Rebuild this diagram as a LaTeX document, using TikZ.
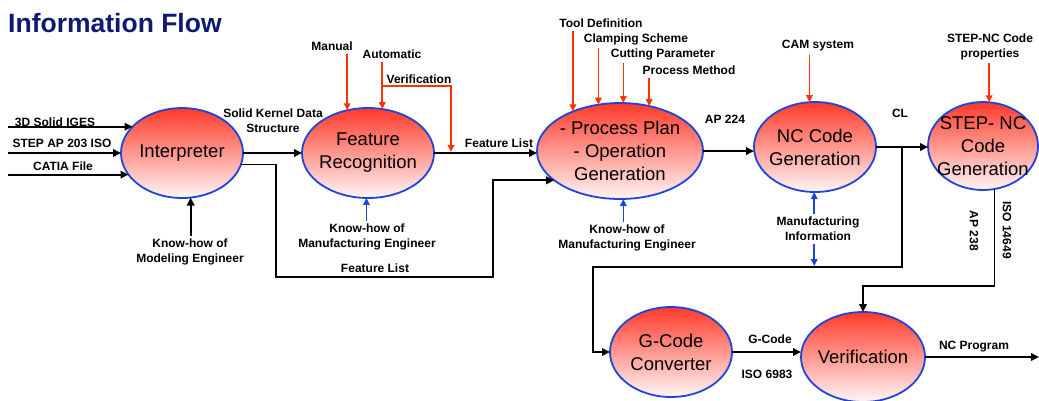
\documentclass[tikz,border=0pt]{standalone}
\usepackage{fontspec}
\setmainfont{Liberation Sans}
\usetikzlibrary{shapes.geometric,arrows.meta}
\definecolor{ttl}{HTML}{0D1A73}
\definecolor{redl}{HTML}{FF3300}
\definecolor{bluel}{HTML}{1F45D8}
\definecolor{ellt}{HTML}{FF3A2A}
\definecolor{ellb}{HTML}{FFF6F6}
\tikzset{
  proc/.style={ellipse, draw=bluel, line width=1.8pt, top color=ellt, bottom color=ellb, inner sep=0pt, outer sep=0pt},
  ptext/.style={font=\fontsize{18.5}{23}\selectfont, align=center, inner sep=0pt, text=black},
  lbl/.style={font=\bfseries\fontsize{12}{15}\selectfont, inner sep=0pt, align=center},
  blk/.style={line width=1.8pt, -{Triangle[length=8pt,width=7.5pt]}},
  rd/.style={redl, line width=1.7pt, -{Triangle[length=7pt,width=6.5pt]}},
  bl/.style={bluel, line width=1.7pt, -{Triangle[length=7pt,width=6.5pt]}},
}
\begin{document}
\begin{tikzpicture}[x=1pt,y=-1pt]
\useasboundingbox (0,0) rectangle (1039,400);
% title
\node[anchor=base west, inner sep=0pt, text=ttl, font=\bfseries\fontsize{26.5}{30}\selectfont] (title) at (8,32) {Information Flow};
% process ellipses
\node[proc, minimum width=122pt, minimum height=90pt, label={[ptext]center:Interpreter}] (interp) at (182,153) {};
\node[proc, minimum width=132pt, minimum height=90pt, label={[ptext]center:{Feature\\Recognition}}] (featrec) at (368,153) {};
\node[proc, minimum width=166pt, minimum height=96pt, label={[ptext]center:{- Process Plan\\- Operation\\Generation}}] (pplan) at (620,151) {};
\node[proc, minimum width=122pt, minimum height=90pt, label={[ptext]center:{NC Code\\Generation}}] (ncgen) at (815,147) {};
\node[proc, minimum width=110pt, minimum height=88pt, label={[ptext]center:{STEP- NC\\Code\\Generation}}] (stepnc) at (983,146) {};
\node[proc, minimum width=122pt, minimum height=90pt, label={[ptext]center:{G-Code\\Converter}}] (gconv) at (671,352) {};
\node[proc, minimum width=124pt, minimum height=90pt, label={[ptext]center:Verification}] (verif) at (863,357) {};
% labels
\node[lbl] (in1) at (55,122) {3D Solid IGES};
\node[lbl] (in2) at (62,143) {STEP AP 203 ISO};
\node[lbl] (in3) at (63,166) {CATIA File};
\node[lbl] (solid) at (273,121) {Solid Kernel Data\\Structure};
\node[lbl] (kmod) at (190,252) {Know-how of\\Modeling Engineer};
\node[lbl] (fl2lbl) at (375,268) {Feature List};
\node[lbl] (manual) at (332,46) {Manual};
\node[lbl] (autom) at (392,54) {Automatic};
\node[lbl] (verlbl) at (419,79) {Verification};
\node[lbl] (kmfg1) at (367,237) {Know-how of\\Manufacturing Engineer};
\node[lbl] (fl1lbl) at (499,143) {Feature List};
\node[lbl] (tooldef) at (601,23) {Tool Definition};
\node[lbl] (clamp) at (636,39) {Clamping Scheme};
\node[lbl] (cutpar) at (663,54) {Cutting Parameter};
\node[lbl] (pmeth) at (689,70) {Process Method};
\node[lbl] (kmfg2) at (627,238) {Know-how of\\Manufacturing Engineer};
\node[lbl] (ap224) at (725,119) {AP 224};
\node[lbl] (cam) at (818,46) {CAM system};
\node[lbl] (mfginfo) at (818,229) {Manufacturing\\Information};
\node[lbl] (cl) at (900,113) {CL};
\node[lbl] (stprop) at (990,47) {STEP-NC Code\\properties};
\node[lbl, rotate=-90] (ap238) at (974,231) {AP 238};
\node[lbl, rotate=-90] (iso14649) at (1007,230) {ISO 14649};
\node[lbl] (gcode) at (770,339) {G-Code};
\node[lbl] (iso6983) at (767,374) {ISO 6983};
\node[lbl] (ncprog) at (974,347) {NC Program};
% helper coordinates
\coordinate (lx) at (8,0);
\coordinate (fla) at (276,277);
\coordinate (flb) at (493,277);
\coordinate (vb) at (451,86);
\coordinate (cl1) at (902,267);
\coordinate (cl2) at (593,267);
\coordinate (sp2) at (863,286);
\coordinate (ncend) at (1039,357);
% inputs
\draw[blk] (interp.152.4 -| lx) -- (interp.152.4);
\draw[blk] (interp.west -| lx) -- (interp.west);
\draw[blk] (interp.202.5 -| lx) -- (interp.202.5);
\draw[blk, shorten <=3pt] (kmod.north -| interp.-79.8) -- (interp.-79.8);
% main flow
\draw[blk] (interp.east) -- (interp.east -| featrec.west);
\draw[blk] (interp.-11.5) -| (fla) -- (flb) |- (pplan.204.8);
\draw[blk] (featrec.east) -- (featrec.east -| pplan.west);
\draw[blk] (pplan.east) -- (pplan.east -| ncgen.west);
\draw[blk] (ncgen.east) -- (ncgen.east -| stepnc.west);
\draw[blk] (ncgen.east -| cl1) -- (cl1) -- (cl2) |- (gconv.west);
\draw[blk] (stepnc.-75.7) |- (sp2) -- (verif.north);
\draw[blk] (gconv.east) -- (gconv.east -| verif.west);
\draw[blk] (verif.east) -- (ncend);
% red inputs
\draw[rd, shorten <=3pt] (featrec.116.2 |- manual.south) -- (featrec.116.2);
\draw[rd, shorten <=3pt] (featrec.72.3 |- autom.south) -- (featrec.72.3);
\draw[rd, shorten >=1pt] (featrec.72.3 |- vb) -- (vb) -- (vb |- featrec.east);
\draw[rd, shorten <=3pt] (pplan.140.8 |- tooldef.south) -- (pplan.140.8);
\draw[rd, shorten <=3pt] (pplan.115.4 |- clamp.south) -- (pplan.115.4);
\draw[rd, shorten <=3pt] (pplan.86.4 |- cutpar.south) -- (pplan.86.4);
\draw[rd, shorten <=3pt] (pplan.57.2 |- pmeth.south) -- (pplan.57.2);
\draw[rd, shorten <=3pt] (ncgen.97.6 |- cam.south) -- (ncgen.97.6);
\draw[rd, shorten <=3pt] (stepnc.82.2 |- stprop.south) -- (stepnc.82.2);
% blue inputs
\draw[bl, shorten <=3pt] (kmfg1.north -| featrec.-92) -- (featrec.-92);
\draw[bl, shorten <=3pt] (kmfg2.north -| pplan.-86) -- (pplan.-86);
\draw[bl, shorten <=3pt] (mfginfo.north -| ncgen.-91) -- (ncgen.-91);
\draw[bl, shorten <=3pt, shorten >=1pt] (mfginfo.south -| ncgen.-91) -- (ncgen.-91 |- cl1);
\end{tikzpicture}
\end{document}
